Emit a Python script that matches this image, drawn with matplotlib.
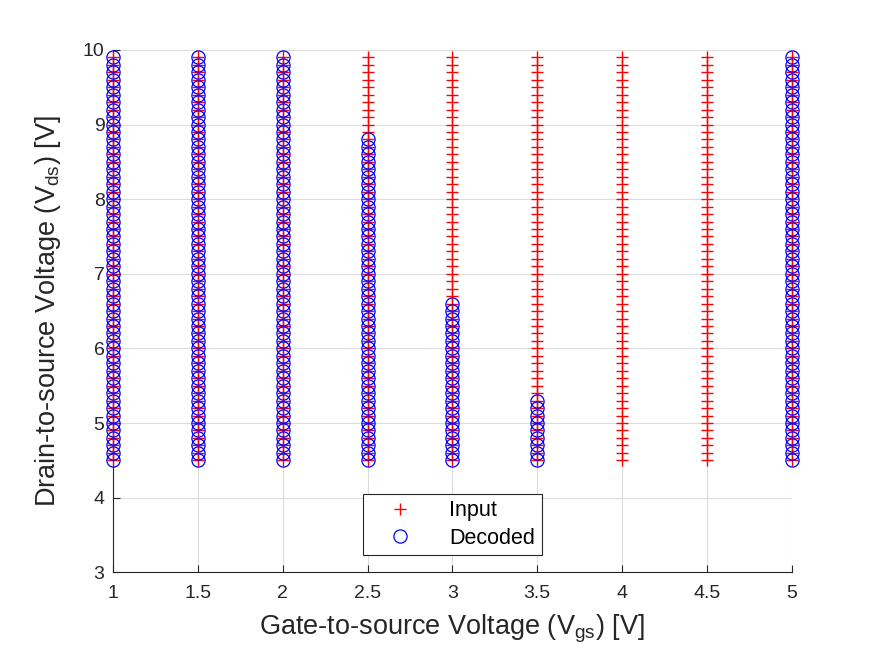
import numpy as np
import matplotlib.pyplot as plt

plt.rcParams['font.family'] = ['Liberation Sans', 'DejaVu Sans']

# gate voltages that were swept
vgs = [1, 1.5, 2, 2.5, 3, 3.5, 4, 4.5, 5]
vgs_labels = ['1', '1.5', '2', '2.5', '3', '3.5', '4', '4.5', '5']
# drain voltage sweep for the inputs
vds_lo = 4.5
vds_hi = 9.9
vds_step = 0.1
# highest decoded Vds per Vgs (None = nothing decoded)
decoded_top = [9.9, 9.9, 9.9, 8.8, 6.6, 5.3, None, None, 9.9]

vds = np.round(np.arange(vds_lo, vds_hi + vds_step / 2, vds_step), 2)

in_x, in_y, dec_x, dec_y = [], [], [], []
for g, top in zip(vgs, decoded_top):
	in_x += [g] * len(vds)
	in_y += list(vds)
	if top is not None:
		d = vds[vds <= top + 1e-9]
		dec_x += [g] * len(d)
		dec_y += list(d)

fig = plt.figure(figsize=(8.75, 6.57), dpi=100)
ax = fig.add_axes([0.129, 0.129, 0.776, 0.795])

ax.plot(in_x, in_y, '+', color='red', markersize=8, markeredgewidth=1.0,
	label='Input', clip_on=False, zorder=3)
ax.plot(dec_x, dec_y, 'o', color='blue', markerfacecolor='none', markersize=9.5,
	markeredgewidth=0.9, label='Decoded', clip_on=False, zorder=4)

ax.set_xlim(1, 5)
ax.set_ylim(3, 10)
ax.set_xticks(vgs)
ax.set_xticklabels(vgs_labels)
ax.set_yticks(range(3, 11))

ax.grid(True, color='#dcdcdc', linewidth=0.8)
ax.set_axisbelow(True)
ax.spines['top'].set_visible(False)
ax.spines['right'].set_visible(False)
ax.spines['left'].set_color('#262626')
ax.spines['bottom'].set_color('#262626')
ax.tick_params(direction='in', labelsize=14, colors='#262626', length=5)
ax.tick_params(axis='x', pad=9)
ax.tick_params(axis='y', pad=6)

ax.set_xlabel('Gate-to-source Voltage (V$_{\\mathregular{gs}}$) [V]', fontsize=19.5,
	color='#262626', labelpad=8)
ax.set_ylabel('Drain-to-source Voltage (V$_{\\mathregular{ds}}$) [V]', fontsize=19.5,
	color='#262626', labelpad=14)

leg = ax.legend(loc='lower center', bbox_to_anchor=(0.5, 0.033), fontsize=15.5,
	fancybox=False, framealpha=1, edgecolor='#262626', borderpad=0.3,
	handlelength=2.8, handletextpad=0.9, borderaxespad=0, labelspacing=0.3)
leg.get_frame().set_linewidth(0.8)

fig.savefig('out.png', dpi=100)
